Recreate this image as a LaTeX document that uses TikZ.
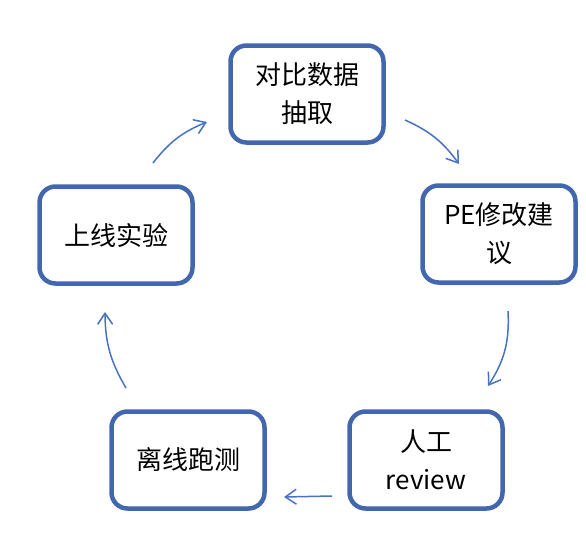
\documentclass[tikz,border=0pt]{standalone}
\usepackage{fontspec}
\setmainfont{Noto Sans CJK SC}
\usetikzlibrary{arrows.meta}
\definecolor{boxblue}{RGB}{66,103,175}
\definecolor{arrowblue}{RGB}{72,114,196}

\begin{document}
\begin{tikzpicture}[x=1pt,y=-1pt,
    stepbox/.style={draw=boxblue, line width=4.5pt, rounded corners=16pt,
        minimum width=153pt, minimum height=97pt, align=center,
        font=\fontsize{26}{38}\selectfont},
    flow/.style={draw=arrowblue, line width=1.5pt,
        -{Straight Barb[length=11pt,width=15pt,line width=1.5pt]}}]
    \useasboundingbox (0,0) rectangle (586,554);
    % Draw the boxes
    \node[stepbox] (extract) at (307,94) {对比数据\\抽取};
    \node[stepbox] (advice) at (499,234) {PE修改建\\议};
    \node[stepbox] (review) at (426,460) {人工\\review};
    \node[stepbox] (offline) at (188,460) {离线跑测};
    \node[stepbox] (online) at (116,235) {上线实验};
    % Ends of the arrows
    \coordinate (a1s) at (405,120); \coordinate (a1e) at (459,164);
    \coordinate (a2s) at (508,311); \coordinate (a2e) at (488,386);
    \coordinate (a3s) at (332,496); \coordinate (a3e) at (284,497);
    \coordinate (a4s) at (126,388); \coordinate (a4e) at (105,312);
    \coordinate (a5s) at (153,163); \coordinate (a5e) at (207,122);
    % Draw the arrows
    \draw[flow] (a1s) to[bend left=15] (a1e);
    \draw[flow] (a2s) to[bend left=18] (a2e);
    \draw[flow] (a3s) -- (a3e);
    \draw[flow] (a4s) to[bend left=15] (a4e);
    \draw[flow] (a5s) to[bend left=15] (a5e);
\end{tikzpicture}
\end{document}
